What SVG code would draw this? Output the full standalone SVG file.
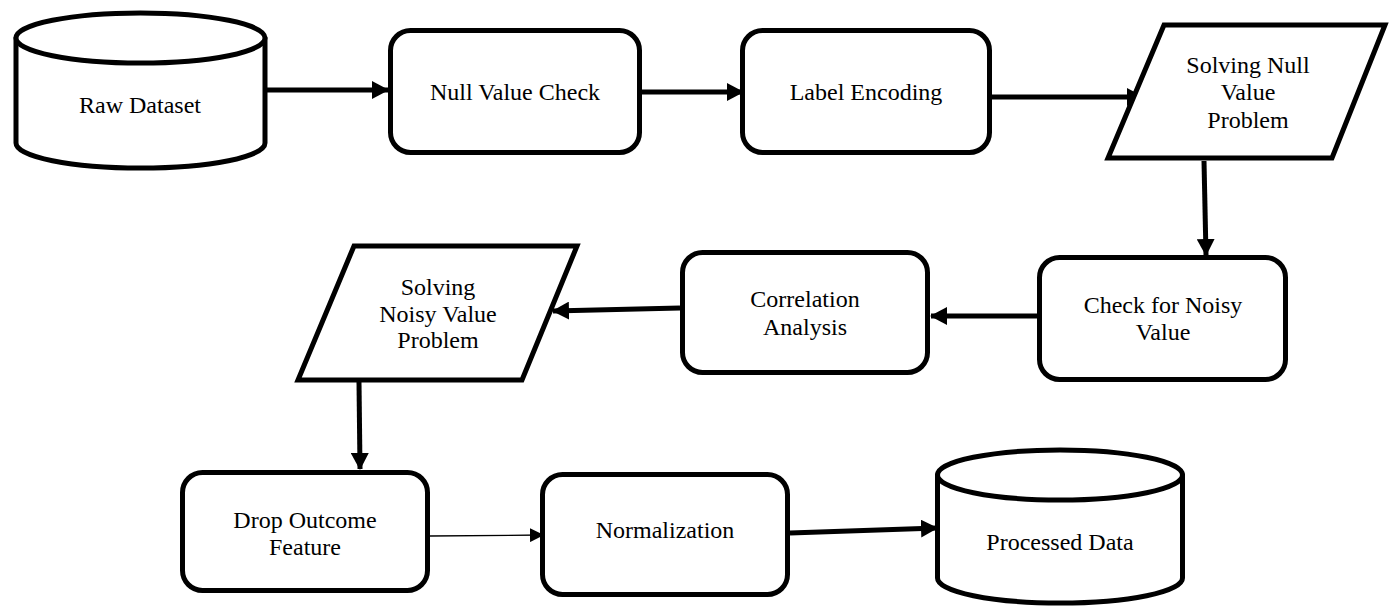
<svg xmlns="http://www.w3.org/2000/svg" width="1396" height="606" viewBox="0 0 1396 606">
  <style>
    .shape { fill: #ffffff; stroke: #000000; stroke-width: 5; stroke-linejoin: round; }
    .para { fill: #ffffff; stroke: #000000; stroke-width: 5; stroke-linejoin: miter; }
    text { font-family: 'Liberation Serif', 'Times New Roman', serif; font-size: 24px; fill: #000000; text-anchor: middle; }
    .conn { stroke: #000000; stroke-width: 5; fill: none; }
    .thin { stroke: #000000; stroke-width: 1.3; fill: none; }
  </style>
  <defs>
    <marker id="ah" markerUnits="userSpaceOnUse" markerWidth="17" markerHeight="18" refX="16" refY="9" orient="auto">
      <path d="M0,0 L17,9 L0,18 Z" fill="#000000"/>
    </marker>
    <marker id="ahs" markerUnits="userSpaceOnUse" markerWidth="14" markerHeight="14" refX="13" refY="7" orient="auto">
      <path d="M0,0 L14,7 L0,14 Z" fill="#000000"/>
    </marker>
  </defs>

  <g id="connectors">
    <line class="conn" x1="266" y1="90" x2="388" y2="90" marker-end="url(#ah)"/>
    <line class="conn" x1="642" y1="92" x2="743" y2="92" marker-end="url(#ah)"/>
    <line class="conn" x1="992" y1="97" x2="1143" y2="97" marker-end="url(#ah)"/>
    <line class="conn" x1="1204" y1="161" x2="1206" y2="255" marker-end="url(#ah)"/>
    <line class="conn" x1="1037" y1="316" x2="931" y2="316" marker-end="url(#ah)"/>
    <line class="conn" x1="680" y1="308" x2="553" y2="311" marker-end="url(#ah)"/>
    <line class="conn" x1="359" y1="382" x2="360" y2="469" marker-end="url(#ah)"/>
    <line class="thin" x1="430" y1="536" x2="543" y2="535" marker-end="url(#ahs)"/>
    <line class="conn" x1="790" y1="533" x2="937" y2="528" marker-end="url(#ah)"/>
  </g>

  <g id="raw-dataset">
    <path class="shape" d="M16,38 L16,143 A124.5,25 0 0,0 265,143 L265,38 Z"/>
    <ellipse class="shape" cx="140.5" cy="38" rx="124.5" ry="25"/>
    <text x="140" y="113">Raw Dataset</text>
  </g>

  <g id="null-value-check">
    <rect class="shape" x="390.5" y="30.5" width="249" height="122" rx="20"/>
    <text x="515" y="100">Null Value Check</text>
  </g>

  <g id="label-encoding">
    <rect class="shape" x="742.5" y="30.5" width="247" height="122" rx="20"/>
    <text x="866" y="100">Label Encoding</text>
  </g>

  <g id="solving-null">
    <polygon class="para" points="1164,25 1385,25 1332,158 1108,158"/>
    <text x="1248" y="73">Solving Null</text>
    <text x="1248" y="100">Value</text>
    <text x="1248" y="128">Problem</text>
  </g>

  <g id="check-noisy">
    <rect class="shape" x="1039.5" y="257.5" width="246" height="122" rx="20"/>
    <text x="1163" y="313">Check for Noisy</text>
    <text x="1163" y="340">Value</text>
  </g>

  <g id="correlation">
    <rect class="shape" x="682.5" y="252.5" width="245" height="120" rx="20"/>
    <text x="805" y="307">Correlation</text>
    <text x="805" y="335">Analysis</text>
  </g>

  <g id="solving-noisy">
    <polygon class="para" points="354,246 577,246 522,380 298,380"/>
    <text x="438" y="295">Solving</text>
    <text x="438" y="322">Noisy Value</text>
    <text x="438" y="348">Problem</text>
  </g>

  <g id="drop-outcome">
    <rect class="shape" x="182.5" y="472.5" width="245" height="118" rx="20"/>
    <text x="305" y="528">Drop Outcome</text>
    <text x="305" y="555">Feature</text>
  </g>

  <g id="normalization">
    <rect class="shape" x="542.5" y="474.5" width="245" height="120" rx="20"/>
    <text x="665" y="538">Normalization</text>
  </g>

  <g id="processed-data">
    <path class="shape" d="M937.5,475 L937.5,578 A122.5,25 0 0,0 1182.5,578 L1182.5,475 Z"/>
    <ellipse class="shape" cx="1060" cy="475" rx="122.5" ry="25"/>
    <text x="1060" y="550">Processed Data</text>
  </g>
</svg>
